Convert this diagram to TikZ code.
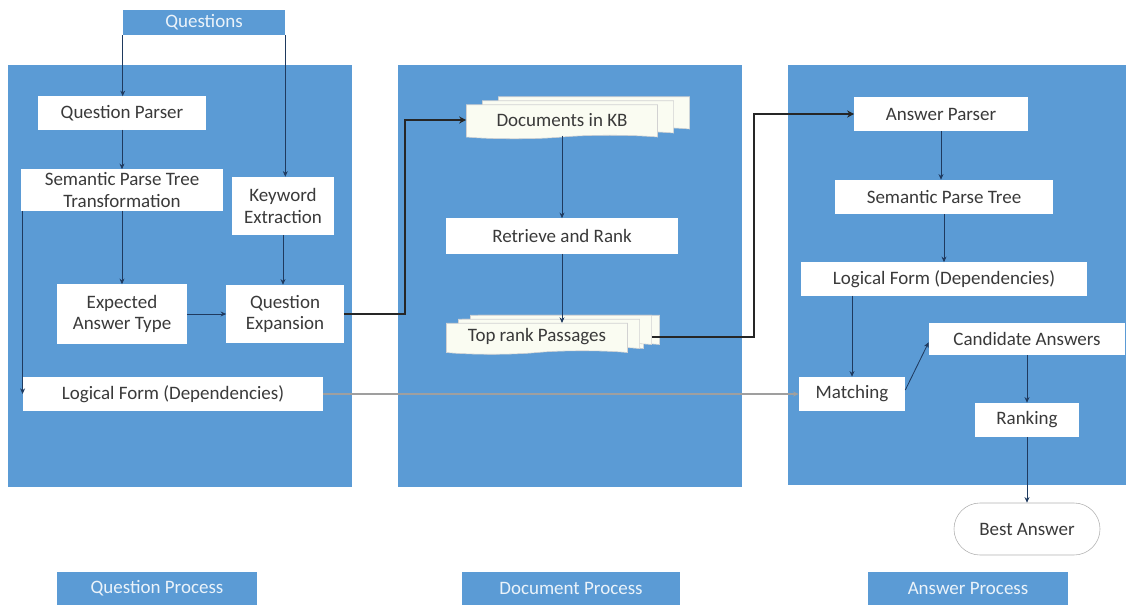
\documentclass[tikz,border=0pt]{standalone}
\usepackage{fontspec}
\setmainfont{Carlito}
\usetikzlibrary{arrows.meta,shapes.symbols,shadows}
\definecolor{panelblue}{HTML}{5B9BD5}
\definecolor{linenavy}{HTML}{1F3A5F}
\definecolor{boxtext}{HTML}{3A3A3A}
\definecolor{paper}{HTML}{FAFCF2}
\begin{document}
\begin{tikzpicture}[x=0.025cm,y=-0.025cm,
    box/.style={fill=white,text=boxtext,align=center,inner sep=0pt,font=\fontsize{13.5}{15.5}\selectfont},
    header/.style={fill=panelblue,text=white!88!panelblue,inner sep=0pt,font=\fontsize{13.5}{15.5}\selectfont},
    pages/.style={box,shape=tape,tape bend top=none,tape bend height=2.5pt,draw=gray!35,fill=paper,
        double copy shadow={shadow xshift=0.4cm,shadow yshift=0.1cm,fill=paper,draw=gray!35}},
    arr/.style={draw=linenavy,line width=0.6pt,-{Stealth[length=4pt,width=3.5pt]}},
    bigarr/.style={draw=black!85,line width=1.8pt,-{Stealth[length=5pt,width=5pt]}},
    grayarr/.style={draw=gray!75,line width=1pt,-{Stealth[length=4pt,width=3.5pt]}}]
        \useasboundingbox (0,0) rectangle (1126,605);

        % Paneles de fondo
        \fill[panelblue] (8,65) rectangle (352,487);
        \fill[panelblue] (398,65) rectangle (742,487);
        \fill[panelblue] (788,65) rectangle (1126,485);

        % Titulos
        \node[header,minimum width=4.05cm,minimum height=0.625cm] (q) at (204,22.5) {Questions};
        \node[header,minimum width=5cm,minimum height=0.825cm] (qproc) at (157,588.5) {Question Process};
        \node[header,minimum width=5.45cm,minimum height=0.825cm] (dproc) at (571,588.5) {Document Process};
        \node[header,minimum width=5cm,minimum height=0.825cm] (aproc) at (968,588.5) {Answer Process};

        % Proceso de preguntas
        \node[box,minimum width=4.2cm,minimum height=0.825cm] (qp) at (122,113) {Question Parser};
        \node[box,minimum width=5.025cm,minimum height=1.025cm] (sem) at (122,190) {Semantic Parse Tree\\Transformation};
        \node[box,minimum width=2.525cm,minimum height=1.45cm] (kw) at (283,206) {Keyword\\Extraction};
        \node[box,minimum width=3.25cm,minimum height=1.475cm] (eat) at (122,314) {Expected\\Answer Type};
        \node[box,minimum width=2.925cm,minimum height=1.45cm] (qe) at (285,314) {Question\\Expansion};
        \node[box,minimum width=7.5cm,minimum height=0.85cm] (lfq) at (173,394) {Logical Form (Dependencies)};

        % Proceso de documentos
        \node[pages,minimum width=4.775cm,minimum height=0.85cm] (docs) at (562,120) {Documents in KB};
        \node[box,minimum width=5.775cm,minimum height=0.875cm] (rr) at (562,236) {Retrieve and Rank};
        \node[pages,minimum width=4.525cm,minimum height=0.775cm,
            double copy shadow={shadow xshift=0.3cm,shadow yshift=0.1cm,fill=paper,draw=gray!35}] (trp) at (537,337) {Top rank Passages};

        % Proceso de respuestas
        \node[box,minimum width=4.325cm,minimum height=0.85cm] (ap) at (941,114) {Answer Parser};
        \node[box,minimum width=5.45cm,minimum height=0.85cm] (spt) at (944,197) {Semantic Parse Tree};
        \node[box,minimum width=7.15cm,minimum height=0.825cm] (lfa) at (944,279) {Logical Form (Dependencies)};
        \node[box,minimum width=4.9cm,minimum height=0.8cm] (cand) at (1027,339) {Candidate Answers};
        \node[box,minimum width=2.65cm,minimum height=0.85cm] (match) at (852,394) {Matching};
        \node[box,minimum width=2.6cm,minimum height=0.85cm] (rank) at (1027,420) {Ranking};
        \node[box,draw=gray!60,rounded corners=0.65cm,minimum width=3.65cm,minimum height=1.3cm] (best) at (1027,529) {Best Answer};

        % Flechas del proceso de preguntas
        \draw[arr] (q.south west) -- (q.south west |- qp.north);
        \draw[arr] (q.south east) -- (q.south east |- kw.north);
        \draw[arr] (qp) -- (sem);
        \draw[arr] (sem) -- (eat);
        \draw[arr] (kw.south) -- (kw.south |- qe.north);
        \draw[arr] (eat) -- (qe);
        \draw[arr] ([xshift=1pt]sem.south west) -- ([xshift=1pt]sem.south west |- lfq.west);

        % Flechas gruesas entre paneles
        \draw[bigarr] (qe.east) -- ++(61,0) |- (docs.west);
        \draw[bigarr] ([xshift=0.6cm]trp.east) -- ++(102,0) |- (ap.west);

        % Flechas del proceso de documentos
        \draw[arr] (docs.south) -- (rr.north);
        \draw[arr] (rr.south) -- (rr.south |- trp.north);

        % Flechas del proceso de respuestas
        \draw[arr] (ap.south) -- (ap.south |- spt.north);
        \draw[arr] (spt) -- (lfa);
        \draw[arr] (match.north |- lfa.south) -- (match.north);
        \draw[arr] ([yshift=0.1cm]match.east) -- ([yshift=-0.08cm]cand.west);
        \draw[arr] (cand) -- (rank);
        \draw[arr] (rank) -- (best);

        % Forma logica hacia Matching
        \draw[grayarr] (lfq.east) -- (match.west);
    \end{tikzpicture}
\end{document}
